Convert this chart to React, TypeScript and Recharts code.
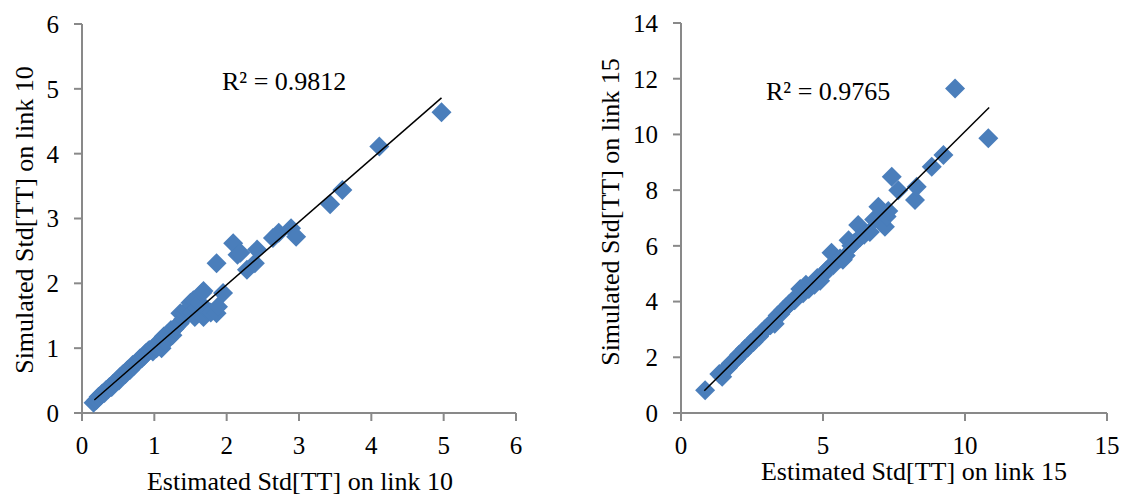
import { ScatterChart, Scatter, XAxis, YAxis } from "recharts";

// link 10: estimated vs simulated std of travel time
const link10Estimated = [
  0.16, 0.2, 0.23, 0.26, 0.28, 0.31, 0.33, 0.36, 0.38, 0.41, 0.43, 0.46, 0.48, 0.51, 0.53, 0.55,
  0.57, 0.6, 0.62, 0.64, 0.66, 0.68, 0.7, 0.72, 0.75, 0.78, 0.8, 0.83, 0.86, 0.88, 0.91, 0.93,
  0.96, 0.98, 1.0, 1.03, 1.06, 1.08, 1.1, 1.13, 1.15, 1.18, 1.2, 1.23, 1.25, 1.28, 1.3, 1.35,
  1.36, 1.4, 1.42, 1.45, 1.48, 1.5, 1.52, 1.54, 1.56, 1.6, 1.62, 1.66, 1.68, 1.68, 1.72, 1.78,
  1.86, 1.88, 1.95, 1.86, 2.09, 2.15, 2.19, 2.28, 2.39, 2.42, 2.64, 2.72, 2.89, 2.96, 3.43, 3.6,
  4.11, 4.97,
];
const link10Simulated = [
  0.16, 0.2, 0.25, 0.27, 0.3, 0.31, 0.35, 0.37, 0.4, 0.4, 0.45, 0.47, 0.5, 0.5, 0.56, 0.58,
  0.6, 0.6, 0.65, 0.67, 0.66, 0.7, 0.74, 0.73, 0.78, 0.8, 0.84, 0.85, 0.88, 0.92, 0.95, 0.97,
  0.98, 0.95, 1.02, 1.0, 1.05, 1.12, 1.0, 1.18, 1.1, 1.22, 1.15, 1.28, 1.2, 1.3, 1.33, 1.38,
  1.54, 1.45, 1.53, 1.59, 1.6, 1.7, 1.55, 1.74, 1.48, 1.62, 1.7, 1.85, 1.88, 1.48, 1.6, 1.55,
  1.54, 1.64, 1.85, 2.31, 2.62, 2.44, 2.47, 2.21, 2.31, 2.52, 2.7, 2.78, 2.85, 2.72, 3.22, 3.44,
  4.11, 4.64,
];
const link10TrendX = [0.17, 4.97];
const link10TrendY = [0.2, 4.86];

// link 15
const link15Estimated = [
  0.85, 1.35, 1.45, 1.55, 1.65, 1.75, 1.85, 1.95, 2.05, 2.15, 2.25, 2.35, 2.45, 2.55, 2.65, 2.75,
  2.85, 2.95, 3.05, 3.15, 3.25, 3.3, 3.4, 3.5, 3.6, 3.7, 3.8, 3.9, 4.0, 4.1, 4.2, 4.3, 4.4, 4.5,
  4.6, 4.7, 4.8, 4.9, 5.0, 5.1, 5.2, 5.3, 5.36, 5.45, 5.6, 5.7, 5.8, 5.9, 6.0, 6.1, 6.24, 6.3,
  6.45, 6.65, 6.8, 6.95, 7.05, 7.18, 7.24, 7.3, 7.42, 7.65, 8.24, 8.3, 8.83, 9.24, 9.65, 10.82,
];
const link15Simulated = [
  0.82, 1.4, 1.3, 1.55, 1.62, 1.78, 1.85, 1.95, 2.1, 2.15, 2.3, 2.35, 2.5, 2.55, 2.7, 2.75,
  2.9, 3.0, 3.1, 3.15, 3.3, 3.2, 3.5, 3.55, 3.7, 3.8, 3.9, 4.0, 4.05, 4.2, 4.45, 4.3, 4.6, 4.45,
  4.6, 4.6, 4.85, 4.75, 4.95, 5.1, 5.2, 5.75, 5.3, 5.45, 5.55, 5.5, 5.65, 6.2, 6.0, 6.1, 6.75, 6.3,
  6.4, 6.5, 6.95, 7.4, 6.85, 6.69, 7.05, 7.25, 8.48, 8.0, 7.65, 8.12, 8.84, 9.26, 11.65, 9.86,
];
const link15TrendX = [0.82, 10.85];
const link15TrendY = [0.8, 10.97];

const ticks10 = [0, 1, 2, 3, 4, 5, 6];
const ticks15X = [0, 5, 10, 15];
const ticks15Y = [0, 2, 4, 6, 8, 10, 12, 14];

const toPoints = (xs: number[], ys: number[]) => xs.map((x, i) => ({ x, y: ys[i] }));

const FONT = "'Liberation Serif', 'Times New Roman', serif";
const AXIS = "#898989";
const BLUE = "#4A7EBB";

const Diamond = (props: any) => {
  const { cx, cy } = props;
  const r = 10;
  return <path d={`M${cx},${cy - r}L${cx + r},${cy}L${cx},${cy + r}L${cx - r},${cy}Z`} fill={BLUE} />;
};
const NoDot = () => <g />;

const tickStyle = { fill: "#000", fontSize: 25, fontFamily: FONT };
const textStyle = { fill: "#000", fontSize: 26, fontFamily: FONT };

export default function App() {
  return (
    <div style={{ position: "absolute", left: 0, top: 0, width: 1124, height: 497, background: "#fff" }}>
      <div style={{ position: "absolute", left: 0, top: 0 }}>
        <ScatterChart width={560} height={497} margin={{ top: 24, right: 44, bottom: 0, left: 0 }}>
          <XAxis
            type="number"
            dataKey="x"
            domain={[0, 6]}
            ticks={ticks10}
            height={84}
            tickSize={8}
            tickMargin={15}
            tick={tickStyle}
            axisLine={{ stroke: AXIS, strokeWidth: 2 }}
            tickLine={{ stroke: AXIS, strokeWidth: 2 }}
          />
          <YAxis
            type="number"
            dataKey="y"
            domain={[0, 6]}
            ticks={ticks10}
            width={82}
            tickSize={8}
            tickMargin={15}
            tick={tickStyle}
            axisLine={{ stroke: AXIS, strokeWidth: 2 }}
            tickLine={{ stroke: AXIS, strokeWidth: 2 }}
          />
          <Scatter data={toPoints(link10Estimated, link10Simulated)} shape={Diamond} isAnimationActive={false} />
          <Scatter
            data={toPoints(link10TrendX, link10TrendY)}
            shape={NoDot}
            line={{ stroke: "#000", strokeWidth: 1.5 }}
            isAnimationActive={false}
          />
          <text x={300} y={490} textAnchor="middle" style={textStyle}>
            Estimated Std[TT] on link 10
          </text>
          <text x={33} y={220} textAnchor="middle" transform="rotate(-90, 33, 220)" style={textStyle}>
            Simulated Std[TT] on link 10
          </text>
          <text x={222} y={90} style={textStyle}>
            R² = 0.9812
          </text>
        </ScatterChart>
      </div>
      <div style={{ position: "absolute", left: 560, top: 0 }}>
        <ScatterChart width={564} height={497} margin={{ top: 23, right: 17, bottom: 0, left: 0 }}>
          <XAxis
            type="number"
            dataKey="x"
            domain={[0, 15]}
            ticks={ticks15X}
            height={84}
            tickSize={8}
            tickMargin={15}
            tick={tickStyle}
            axisLine={{ stroke: AXIS, strokeWidth: 2 }}
            tickLine={{ stroke: AXIS, strokeWidth: 2 }}
          />
          <YAxis
            type="number"
            dataKey="y"
            domain={[0, 14]}
            ticks={ticks15Y}
            width={121}
            tickSize={8}
            tickMargin={15}
            tick={tickStyle}
            axisLine={{ stroke: AXIS, strokeWidth: 2 }}
            tickLine={{ stroke: AXIS, strokeWidth: 2 }}
          />
          <Scatter data={toPoints(link15Estimated, link15Simulated)} shape={Diamond} isAnimationActive={false} />
          <Scatter
            data={toPoints(link15TrendX, link15TrendY)}
            shape={NoDot}
            line={{ stroke: "#000", strokeWidth: 1.5 }}
            isAnimationActive={false}
          />
          <text x={354} y={480} textAnchor="middle" style={textStyle}>
            Estimated Std[TT] on link 15
          </text>
          <text x={59} y={212} textAnchor="middle" transform="rotate(-90, 59, 212)" style={textStyle}>
            Simulated Std[TT] on link 15
          </text>
          <text x={206} y={100} style={textStyle}>
            R² = 0.9765
          </text>
        </ScatterChart>
      </div>
    </div>
  );
}
